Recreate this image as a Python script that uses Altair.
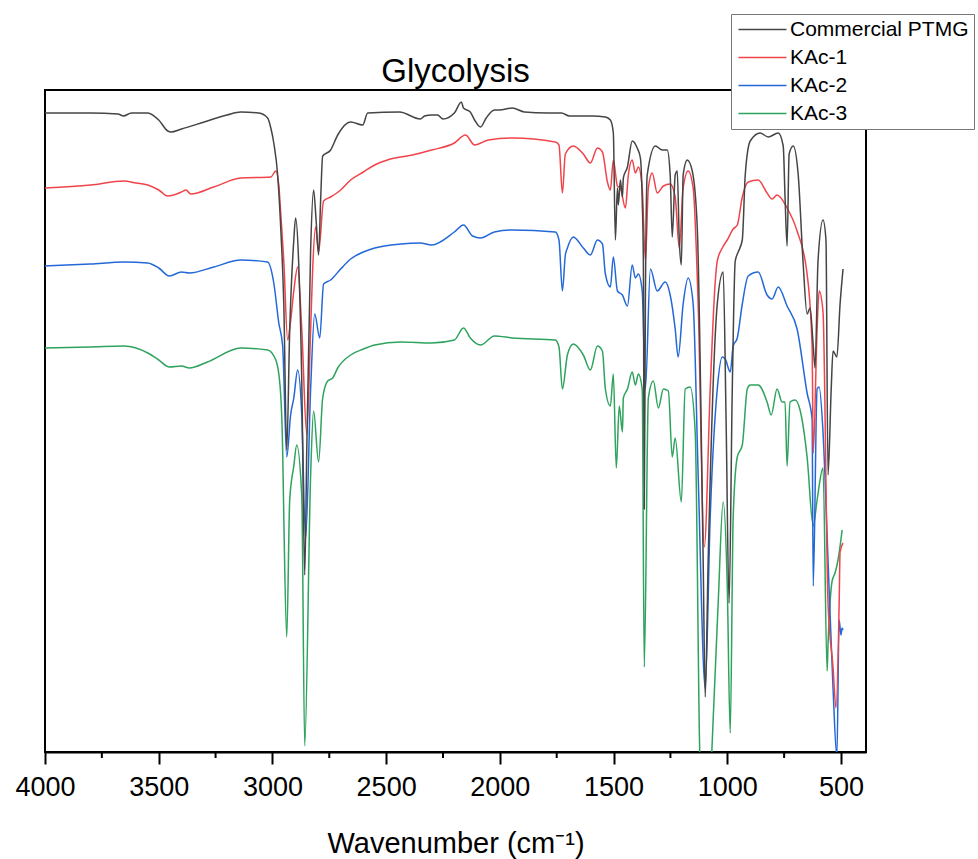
import altair as alt
import pandas as pd

# ---------------- data (arbitrary transmittance units) ----------------
series_names = ["Commercial PTMG", "KAc-1", "KAc-2", "KAc-3"]
series_colors = ["#454545", "#f0444a", "#2468d8", "#2ea35e"]

ptmg_wn = [4000, 3900, 3800, 3679, 3655, 3620, 3548, 3500, 3460, 3447, 3400, 3300, 3200, 3139, 3060, 3021,
           3007, 2994, 2977, 2963, 2950, 2937, 2924, 2906, 2898, 2885, 2871, 2858, 2849, 2832, 2819, 2808,
           2797, 2788, 2779, 2744, 2713, 2656, 2603, 2581, 2441, 2350, 2331, 2300, 2274, 2250, 2200, 2169,
           2160, 2130, 2111, 2085, 2060, 2024, 2002, 1945, 1892, 1791, 1729, 1694, 1593, 1536, 1514, 1501,
           1492, 1483, 1479, 1470, 1461, 1457, 1439, 1418, 1396, 1382, 1374, 1369, 1365, 1360, 1352, 1316,
           1286, 1264, 1251, 1242, 1229, 1220, 1211, 1202, 1194, 1176, 1154, 1132, 1106, 1097, 1084, 1044,
           1018, 1005, 992, 978, 965, 952, 934, 921, 899, 855, 820, 776, 754, 746, 737, 728, 710, 688, 667,
           649, 636, 622, 614, 601, 579, 566, 557, 543, 535, 518, 504, 491]
ptmg_val = [639, 639, 639, 638, 636, 639, 639, 632, 621, 620, 623, 630, 637, 640, 639, 634,
            624, 609, 577, 522, 448, 302, 422, 512, 534, 492, 372, 177, 302, 502, 562, 532,
            497, 552, 596, 602, 617, 630, 627, 639, 640, 633, 636, 637, 637, 633, 639, 650,
            644, 640, 632, 625, 634, 642, 642, 644, 640, 639, 639, 636, 636, 635, 632, 619,
            512, 564, 547, 572, 555, 574, 585, 611, 604, 594, 552, 491, 243, 452, 577, 606,
            602, 602, 577, 515, 577, 581, 512, 487, 577, 592, 581, 525, 192, 55, 192, 448,
            480, 329, 149, 363, 491, 500, 512, 577, 611, 619, 615, 619, 606, 555, 506, 598, 606, 577, 491,
            438, 444, 406, 384, 491, 532, 512, 277, 363, 401, 395, 448, 483]

kac1_wn = [4000, 3800, 3653, 3600, 3548, 3500, 3460, 3400, 3380, 3359, 3258, 3139, 3007, 2985, 2972, 2963,
           2950, 2933, 2920, 2906, 2889, 2871, 2849, 2832, 2823, 2810, 2797, 2775, 2744, 2700, 2656, 2600,
           2550, 2494, 2384, 2300, 2200, 2151, 2111, 2050, 1945, 1756, 1740, 1725, 1712, 1677, 1633, 1602,
           1571, 1549, 1527, 1514, 1501, 1483, 1470, 1448, 1435, 1418, 1404, 1391, 1374, 1360, 1347, 1330,
           1308, 1281, 1251, 1229, 1211, 1194, 1172, 1150, 1128, 1101, 1075, 1053, 1044, 1022, 1000, 974,
           956, 934, 908, 864, 825, 803, 781, 737, 693, 649, 627, 622, 605, 596, 579, 557, 535, 522, 508,
           504, 491]
kac1_val = [564, 567, 571, 569, 567, 562, 556, 560, 562, 558, 565, 574, 575, 581, 567, 537,
            491, 412, 431, 461, 485, 423, 318, 422, 483, 525, 500, 551, 555, 562, 572, 580,
            587, 592, 597, 602, 609, 617, 607, 612, 614, 610, 607, 559, 598, 606, 598, 589,
            604, 600, 570, 562, 592, 566, 564, 544, 577, 592, 579, 585, 564, 491, 564, 579,
            559, 566, 568, 555, 504, 564, 581, 564, 448, 205, 363, 470, 491, 504, 512, 523,
            527, 555, 570, 572, 559, 553, 557, 544, 521, 478, 406, 299, 423, 461, 440, 149, 85, 44, 149,
            200, 209]

kac2_wn = [4000, 3800, 3653, 3548, 3500, 3453, 3400, 3365, 3258, 3139, 3021, 2994, 2972, 2955, 2937, 2920,
           2906, 2889, 2871, 2854, 2832, 2814, 2792, 2775, 2744, 2700, 2656, 2600, 2550, 2436, 2350, 2300,
           2200, 2160, 2120, 2085, 2024, 1945, 1756, 1740, 1725, 1712, 1703, 1677, 1633, 1602, 1571, 1549,
           1536, 1514, 1501, 1483, 1461, 1439, 1418, 1404, 1391, 1374, 1360, 1338, 1308, 1273, 1251, 1229,
           1216, 1194, 1172, 1150, 1128, 1097, 1075, 1044, 1022, 1009, 987, 974, 956, 934, 908, 864, 825,
           803, 776, 737, 693, 649, 627, 622, 605, 596, 579, 557, 535, 518, 508, 500, 495, 491]
kac2_val = [486, 488, 490, 489, 484, 476, 480, 479, 485, 492, 490, 469, 429, 406, 295, 337,
            354, 382, 337, 213, 363, 438, 414, 468, 472, 483, 493, 500, 504, 508, 509, 507,
            520, 527, 516, 514, 520, 522, 520, 512, 461, 497, 504, 515, 504, 497, 512, 508,
            478, 465, 495, 461, 457, 446, 487, 474, 478, 461, 363, 483, 461, 470, 457, 423,
            395, 448, 474, 448, 277, 64, 235, 363, 395, 393, 380, 406, 414, 448, 476, 480, 457,
            453, 465, 446, 423, 359, 333, 166, 363, 365, 320, 192, 64, -5, 132, 117, 124, 122]

kac3_wn = [4000, 3800, 3653, 3548, 3500, 3453, 3400, 3365, 3286, 3139, 3021, 2985, 2966, 2955, 2950, 2937,
           2924, 2906, 2893, 2871, 2858, 2832, 2819, 2797, 2779, 2757, 2735, 2713, 2656, 2600, 2550, 2436,
           2300, 2200, 2160, 2130, 2085, 2024, 1945, 1756, 1740, 1725, 1703, 1677, 1633, 1602, 1571, 1549,
           1536, 1514, 1501, 1488, 1475, 1461, 1457, 1439, 1418, 1404, 1391, 1374, 1365, 1347, 1325, 1303,
           1281, 1259, 1242, 1229, 1202, 1185, 1163, 1141, 1122, 1095, 1068, 1040, 1018, 1000, 987, 974,
           956, 934, 912, 899, 864, 825, 807, 781, 759, 746, 737, 724, 702, 680, 649, 622, 605, 579, 561,
           557, 539, 526, 513, 495]
kac3_val = [404, 405, 406, 399, 392, 385, 386, 384, 390, 404, 402, 392, 365, 302, 235, 115,
            252, 286, 307, 256, 6, 277, 341, 290, 354, 371, 374, 384, 397, 403, 407, 410,
            409, 412, 424, 414, 407, 416, 414, 412, 405, 363, 397, 408, 397, 382, 406, 401,
            363, 346, 378, 284, 346, 320, 354, 363, 380, 367, 378, 363, 85, 354, 371, 344,
            363, 361, 295, 314, 250, 363, 365, 320, 10, -150, 0, 149, 250, 166, 19, 235,
            295, 307, 363, 367, 367, 350, 337, 363, 350, 350, 286, 350, 352, 342, 295, 226, 252, 284, 81,
            107, 171, 179, 192, 222]

x_tick_values = [4000, 3500, 3000, 2500, 2000, 1500, 1000, 500]
x_minor_ticks = [3750, 3250, 2750, 2250, 1750, 1250, 750]

# ---------------- table ----------------
frames = []
# draw order: KAc-3 first, Commercial PTMG last (on top)
for name, wn, val in [("KAc-3", kac3_wn, kac3_val), ("KAc-2", kac2_wn, kac2_val),
                      ("KAc-1", kac1_wn, kac1_val), ("Commercial PTMG", ptmg_wn, ptmg_val)]:
    frames.append(pd.DataFrame({"wn": wn, "val": val, "series": name}))
df = pd.concat(frames, ignore_index=True)
minor_df = pd.DataFrame({"wn": x_minor_ticks})

FONT = "Liberation Sans"
W, H = 821, 662

xscale = alt.Scale(domain=[4000, 390], nice=False, zero=False)

lines = alt.Chart(df).mark_line(strokeWidth=1.5, clip=True, interpolate="monotone").encode(
    x=alt.X("wn:Q", scale=xscale,
            axis=alt.Axis(values=x_tick_values, format="d", title="Wavenumber (cm\u207b\u00b9)",
                          labelFont=FONT, labelFontSize=27, labelColor="black", labelPadding=10,
                          labelFlush=False, labelOverlap=False,
                          tickColor="black", tickWidth=2, tickSize=12,
                          domainColor="black", domainWidth=2, grid=False,
                          titleFont=FONT, titleFontSize=29, titleFontWeight="normal",
                          titleColor="black", titlePadding=29)),
    y=alt.Y("val:Q", scale=alt.Scale(domain=[0, 662], nice=False, zero=False), axis=None),
    color=alt.Color("series:N",
                    scale=alt.Scale(domain=series_names, range=series_colors),
                    sort=series_names,
                    legend=alt.Legend(title=None, orient="none", legendX=686, legendY=-76,
                                      symbolType="M-1,0H5", symbolSize=256, symbolStrokeWidth=1.5,
                                      labelFont=FONT, labelFontSize=21, labelColor="black",
                                      labelOffset=33, rowPadding=6, padding=5,
                                      strokeColor="#777777", fillColor="white", cornerRadius=0,
                                      labelLimit=400)),
    detail="series:N",
)

minor = alt.Chart(minor_df).mark_rule(color="black", strokeWidth=2).encode(
    x=alt.X("wn:Q", scale=xscale),
    y=alt.value(H),
    y2=alt.value(H + 6),
)

chart = alt.layer(lines, minor).properties(
    width=W, height=H,
    title=alt.TitleParams("Glycolysis", font=FONT, fontSize=33, fontWeight="normal",
                          color="black", anchor="middle", frame="group", offset=2, dy=77),
    autosize=alt.AutoSizeParams(type="none"),
    padding={"left": 45, "top": 90, "right": 112, "bottom": 107},
    background="white",
).configure_view(stroke="black", strokeWidth=2)

chart.save("out.html", embed_options={"renderer": "svg", "actions": False})
